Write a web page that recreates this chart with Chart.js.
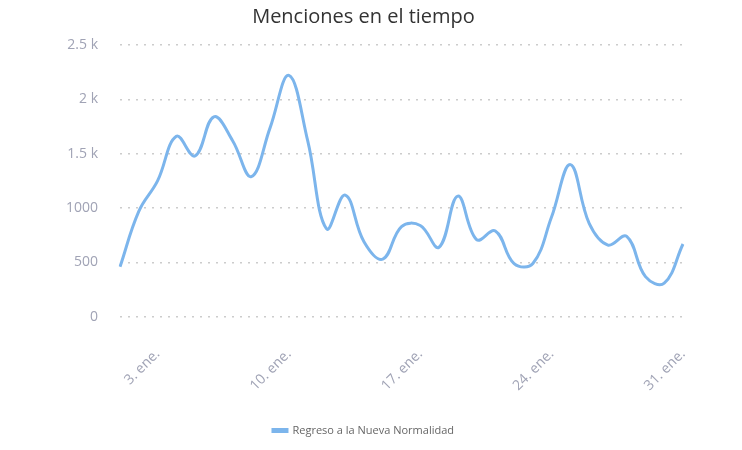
<!DOCTYPE html>
<html><head><meta charset="utf-8">
<script src="https://cdn.jsdelivr.net/npm/chart.js@4"></script>
<style>html,body{margin:0;background:#fff}#w{width:742px;height:450px}</style>
</head><body><div id="w"><canvas id="c"></canvas></div>
<script>
const days = Array.from({length:31},(_,i)=>(i+1)+". ene.");
const shownDays = [3,10,17,24,31];
const seriesName = "Regreso a la Nueva Normalidad";
const values = [460,970,1250,1660,1480,1840,1620,1290,1740,2220,1620,810,1120,690,530,830,840,640,1110,710,790,490,490,920,1400,860,660,740,370,310,670];
const yTicks = {0:"0",500:"500",1000:"1000",1500:"1.5 k",2000:"2 k",2500:"2.5 k"};
new Chart(document.getElementById('c'),{
  type:'line',
  data:{labels:days,datasets:[{label:seriesName,data:values,borderColor:'#7cb5ec',backgroundColor:'#7cb5ec',borderWidth:3,pointRadius:0,tension:0.4,fill:false}]},
  options:{responsive:true,maintainAspectRatio:false,animation:false,
    layout:{padding:{left:44,right:59,top:0,bottom:4}},
    plugins:{
      title:{display:true,text:'Menciones en el tiempo',color:'#333',font:{family:'Open Sans',size:20,weight:'normal'},padding:{top:5,bottom:16}},
      legend:{position:'bottom',labels:{color:'#666',font:{family:'Open Sans',size:11},boxWidth:14,boxHeight:2,padding:10}},
      tooltip:{enabled:false}},
    scales:{
      x:{offset:false,grid:{display:false},border:{display:false},
        ticks:{autoSkip:false,maxRotation:45,minRotation:45,padding:21,color:'#a0a3b5',font:{family:'Open Sans',size:14},
          callback:(v,i)=>shownDays.includes(i+1)?days[i]:''}},
      y:{min:0,max:2500,border:{display:false,dash:[2,6]},
        grid:{color:'#ccc',lineWidth:1.5,drawTicks:false},
        ticks:{stepSize:500,padding:22,color:'#a0a3b5',font:{family:'Open Sans',size:14},callback:v=>yTicks[v]}}}}
});
</script></body></html>
